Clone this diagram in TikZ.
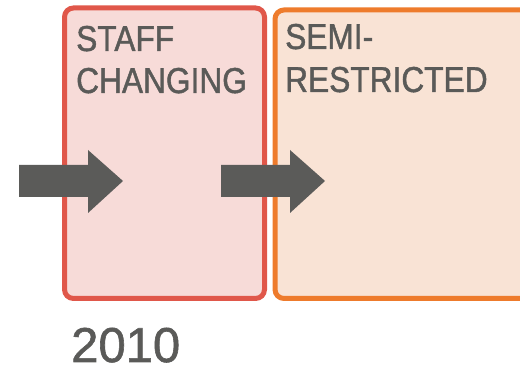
\documentclass[tikz,border=0pt]{standalone}
\usepackage{fontspec}
\setmainfont{Liberation Sans}
\newfontfamily\labelfont[FakeStretch=0.88,FakeBold=1.2]{Liberation Sans}
\newfontfamily\yearfont[FakeBold=1.2]{Liberation Sans}
\definecolor{redline}{HTML}{E0574A}
\definecolor{redfill}{HTML}{F7DBD8}
\definecolor{orangeline}{HTML}{EE7B2C}
\definecolor{orangefill}{HTML}{F9E3D5}
\definecolor{arrowgray}{HTML}{5B5B59}
\definecolor{textgray}{HTML}{5A5A58}
\begin{document}
\begin{tikzpicture}[x=1pt,y=1pt,
  zonebox/.style={line width=5pt, rounded corners=9pt},
  zonelabel/.style={anchor=base west, inner sep=0pt, text=textgray,
    font=\labelfont\fontsize{36}{42}\selectfont, align=left},
  yearlabel/.style={anchor=base west, inner sep=0pt, text=textgray,
    font=\yearfont\fontsize{49}{49}\selectfont},
  bigarrow/.style={fill=arrowgray}]
\useasboundingbox (0,0) rectangle (520,366);
\clip (0,0) rectangle (520,366);
% boxes
\draw[zonebox, draw=redline, fill=redfill] (64.5,67.5) rectangle (264.5,358);
\draw[zonebox, draw=orangeline, fill=orangefill] (275,67.5) rectangle (560,356);
% labels
\node[zonelabel] (staff) at (76,315) {STAFF};
\node[zonelabel] (chg) at (76,273) {CHANGING};
\node[zonelabel] (semi) at (285,317) {SEMI-};
\node[zonelabel] (restr) at (285,274) {RESTRICTED};
\node[yearlabel] (year) at (71,4) {2010};
% arrows
\fill[bigarrow] (19,201) -- (88,201) -- (88,216) -- (123,185) -- (88,153) -- (88,169) -- (19,169) -- cycle;
\fill[bigarrow] (221,201) -- (290,201) -- (290,216) -- (325,185) -- (290,153) -- (290,169) -- (221,169) -- cycle;
\end{tikzpicture}
\end{document}
